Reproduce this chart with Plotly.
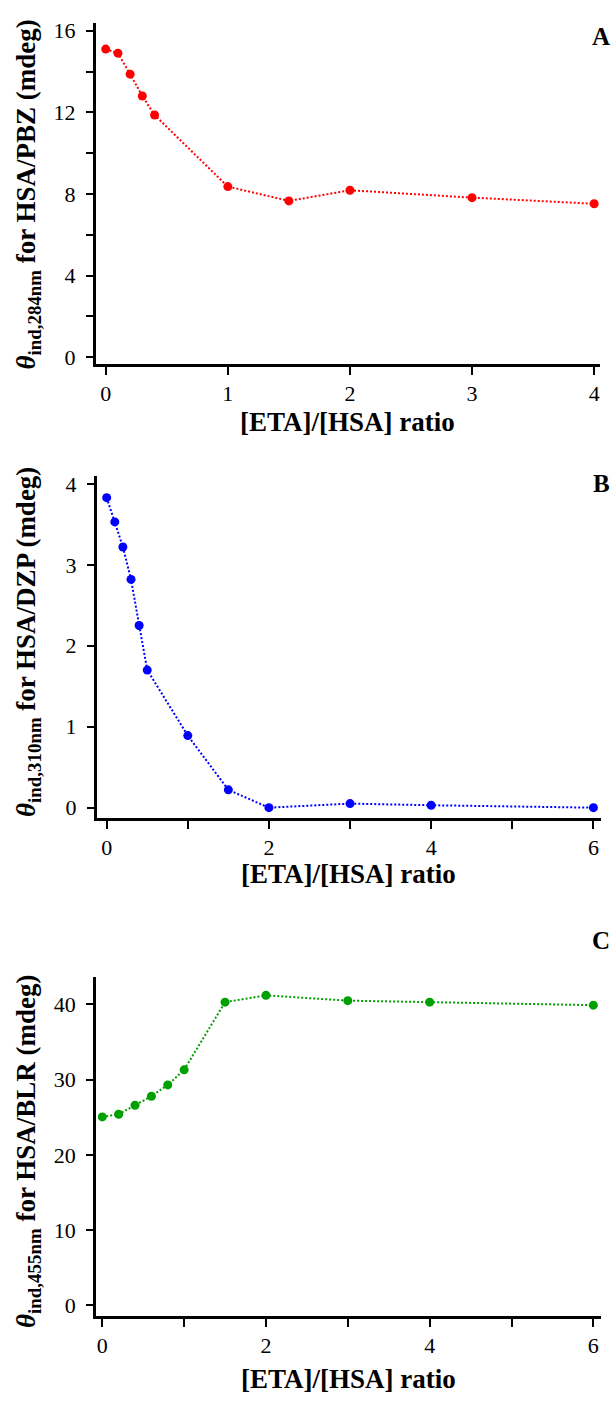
import plotly.graph_objects as go

# ---------------- data ----------------
ratio_a = [0, 0.1, 0.2, 0.3, 0.4, 1, 1.5, 2, 3, 4]
theta_a = [15.1, 14.9, 13.87, 12.8, 11.87, 8.36, 7.66, 8.18, 7.82, 7.52]

ratio_b = [0, 0.1, 0.2, 0.3, 0.4, 0.5, 1, 1.5, 2, 3, 4, 6]
theta_b = [3.83, 3.53, 3.22, 2.82, 2.25, 1.70, 0.89, 0.22, 0.0, 0.05, 0.03, 0.0]

ratio_c = [0, 0.2, 0.4, 0.6, 0.8, 1, 1.5, 2, 3, 4, 6]
theta_c = [25.05, 25.4, 26.6, 27.8, 29.3, 31.3, 40.3, 41.2, 40.5, 40.3, 39.9]

xticks_a = [0, 1, 2, 3, 4]
yticks_a = [0, 4, 8, 12, 16]
xticks_bc = [0, 2, 4, 6]
yticks_b = [0, 1, 2, 3, 4]
yticks_c = [0, 10, 20, 30, 40]

x_title = "[ETA]/[HSA] ratio"
y_titles = [
    "<b><i>θ</i><sub>ind,284nm</sub> for HSA/PBZ (mdeg)</b>",
    "<b><i>θ</i><sub>ind,310nm</sub> for HSA/DZP (mdeg)</b>",
    "<b><i>θ</i><sub>ind,455nm</sub> for HSA/BLR (mdeg)</b>",
]
panel_letters = ["A", "B", "C"]
colors = ["#FF0000", "#0000FF", "#00A000"]

# ---------------- layout geometry ----------------
W, H = 614, 1401
FONT = "Liberation Serif"


def py(p):
    return 1 - p / H


fig = go.Figure()

series = [(ratio_a, theta_a, "x", "y"), (ratio_b, theta_b, "x2", "y2"), (ratio_c, theta_c, "x3", "y3")]
for (xs, ys, xa, ya), col in zip(series, colors):
    fig.add_trace(go.Scatter(
        x=xs, y=ys, xaxis=xa, yaxis=ya, mode="lines+markers",
        line=dict(color=col, width=2, dash="2px,2px"),
        marker=dict(color=col, size=9, symbol="circle"),
        showlegend=False, cliponaxis=False,
    ))

axis_common = dict(
    showline=True, linecolor="black", linewidth=2.5, showgrid=False, zeroline=False,
    ticks="outside", tickcolor="black", tickwidth=2,
    tickfont=dict(family=FONT, size=22, color="black"),
    fixedrange=True,
)

panels = [
    # x domain px, y domain px (top,bottom), xrange, yrange, xticks, x minor dtick, yticks, y minor dtick
    ((95.7, 600.0), (18.3, 361.7), [-0.082, 4.048], [-0.326, 16.37], xticks_a, None, yticks_a, 2),
    ((96.7, 600.7), (475.0, 819.3), [-0.123, 6.09], [-0.126, 4.094], xticks_bc, 1, yticks_b, None),
    ((96.0, 600.7), (980.0, 1321.7), [-0.077, 6.09], [-1.45, 43.6], xticks_bc, 1, yticks_c, None),
]

layout = dict(
    width=W, height=H, margin=dict(l=0, r=0, t=0, b=0),
    paper_bgcolor="white", plot_bgcolor="white",
    font=dict(family=FONT, color="black"),
)

for i, (xd, yd, xr, yr, xt, xminor, yt, yminor) in enumerate(panels):
    sfx = "" if i == 0 else str(i + 1)
    xa = dict(
        axis_common, domain=[xd[0] / W, xd[1] / W], range=xr,
        tickvals=xt, ticklen=8, ticklabelstandoff=0,
        anchor="y" + sfx,
    )
    if xminor:
        xa["minor"] = dict(dtick=xminor, tick0=0, ticks="outside", ticklen=8, tickwidth=2, tickcolor="black", showgrid=False)
    ya = dict(
        axis_common, domain=[py(yd[1]), py(yd[0])], range=yr,
        tickvals=yt, ticklen=7, ticklabelstandoff=6,
        anchor="x" + sfx,
    )
    if yminor:
        ya["minor"] = dict(dtick=yminor, tick0=0, ticks="outside", ticklen=7, tickwidth=2, tickcolor="black", showgrid=False)
    layout["xaxis" + sfx] = xa
    layout["yaxis" + sfx] = ya

fig.update_layout(**layout)

# titles / labels
xtitle_y = [420, 876, 1385]
ytitle_y = [191, 642, 1156]
letter_y = [32, 482, 943]
for i in range(3):
    fig.add_annotation(
        x=(panels[i][0][0] + panels[i][0][1]) / 2 / W, y=py(xtitle_y[i]),
        xref="paper", yref="paper", text="<b>" + x_title + "</b>", showarrow=False,
        xanchor="center", yanchor="middle", font=dict(family=FONT, size=27, color="black"),
    )
    fig.add_annotation(
        x=28 / W, y=py(ytitle_y[i]), xref="paper", yref="paper", text=y_titles[i],
        showarrow=False, textangle=-90, xanchor="center", yanchor="middle",
        font=dict(family=FONT, size=27, color="black"),
    )
    fig.add_annotation(
        x=601 / W, y=py(letter_y[i]), xref="paper", yref="paper",
        text="<b>" + panel_letters[i] + "</b>", showarrow=False,
        xanchor="center", yanchor="middle", font=dict(family=FONT, size=25, color="black"),
    )

fig.write_html(
    "out.html",
    config={"displayModeBar": False},
    post_script="document.body.style.margin='0';document.body.style.overflow='hidden';",
)
